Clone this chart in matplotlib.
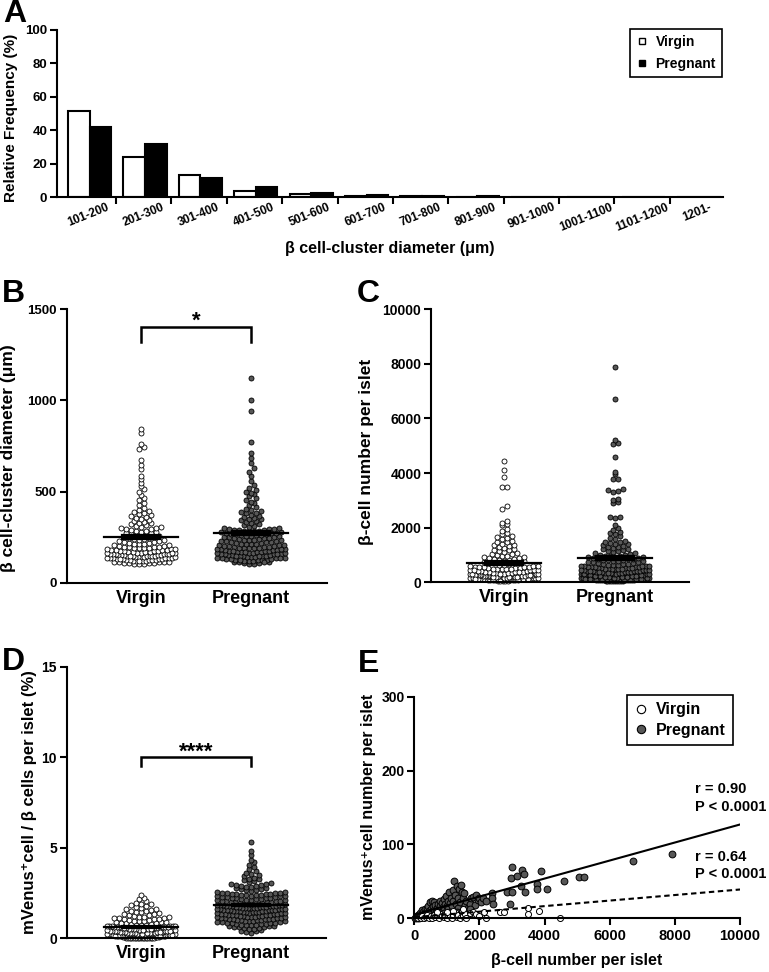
import numpy as np
import matplotlib
matplotlib.use("Agg")
import matplotlib.pyplot as plt
from matplotlib.lines import Line2D

plt.rcParams['font.family'] = ['Liberation Sans', 'DejaVu Sans']
plt.rcParams['font.weight'] = 'bold'
plt.rcParams['axes.linewidth'] = 1.5

W, H = 769, 972
GREY = '#575757'

# ---- panel A: relative frequency of cluster diameters (%) ----
bins = ['101-200', '201-300', '301-400', '401-500', '501-600', '601-700',
        '701-800', '801-900', '901-1000', '1001-1100', '1101-1200', '1201-']
freq_virgin = [51.4, 24.2, 13.1, 3.4, 2.0, 0.5, 0.3, 0.1, 0.0, 0.0, 0.0, 0.0]
freq_pregnant = [41.9, 31.9, 11.5, 6.0, 2.4, 1.2, 0.6, 0.3, 0.1, 0.1, 0.1, 0.0]
groups = ['Virgin', 'Pregnant']

# ---- panel B: beta cell-cluster diameter (um) ----
diam_virgin = [
    101, 103, 104, 106, 107, 109, 110, 111, 113, 114, 115, 116, 118, 119, 120, 121, 122, 124, 125, 126,
    127, 128, 129, 131, 132, 133, 134, 135, 136, 137, 138, 139, 140, 141, 142, 143, 144, 145, 146, 147,
    148, 149, 150, 151, 152, 153, 154, 155, 156, 157, 158, 159, 160, 162, 163, 164, 165, 167, 168, 169,
    170, 172, 173, 175, 176, 177, 179, 180, 182, 183, 185, 186, 188, 189, 191, 192, 194, 195, 197, 198,
    200, 117, 130, 146, 161,
    202, 205, 208, 210, 213, 215, 218, 220, 223, 225, 228, 230, 233, 236, 238, 241, 244, 247, 250, 253,
    256, 259, 262, 265, 268, 271, 274, 277, 280, 283, 286, 289, 292, 295, 298, 300,
    303, 308, 312, 317, 321, 326, 330, 335, 340, 345, 350, 355, 360, 366, 372, 378, 384, 390, 395, 399,
    410, 425, 438, 452, 465, 480, 495,
    512, 530, 548, 570, 585,
    622, 645, 672,
    732, 745, 762,
    820, 842]
diam_pregnant = [
    102, 105, 107, 109, 111, 113, 115, 117, 119, 120, 122, 124, 126, 127, 129, 131, 132, 134, 135, 137,
    138, 140, 141, 143, 144, 146, 147, 149, 150, 152, 153, 155, 156, 158, 159, 161, 162, 164, 165, 167,
    168, 170, 171, 173, 175, 176, 178, 180, 181, 183, 185, 186, 188, 190, 191, 193, 195, 197, 198, 200,
    112, 123, 136, 148, 157, 166, 174, 184, 192, 145,
    201, 203, 205, 207, 209, 211, 213, 215, 217, 219, 221, 223, 225, 227, 229, 231, 233, 235, 237, 239,
    241, 243, 245, 247, 249, 251, 253, 255, 257, 259, 261, 263, 265, 267, 269, 271, 273, 275, 277, 279,
    281, 283, 285, 287, 289, 291, 293, 295, 297, 299, 214, 236, 258, 282,
    302, 307, 312, 317, 322, 327, 332, 337, 342, 347, 352, 357, 362, 368, 374, 380, 385, 390, 395, 399,
    405, 415, 425, 435, 445, 455, 465, 475, 485, 492, 500,
    510, 522, 535, 560, 585,
    608, 628, 655, 682,
    710, 770,
    940, 1000, 1125]

# ---- panel C: beta-cell number per islet ----
cells_virgin = [
    40, 50, 60, 70, 75, 80, 90, 95, 100, 105, 110, 115, 120, 125, 130, 135, 140, 145, 150, 155,
    160, 165, 170, 175, 180, 185, 190, 195, 200, 205, 210, 215, 220, 225, 230, 235, 240, 245, 250, 255,
    260, 265, 270, 275, 280, 285, 290, 295, 300, 65, 85, 112, 128, 142, 158, 172, 188, 202, 218, 232,
    248, 262, 278, 292, 55, 98, 138, 178, 212, 268,
    305, 315, 325, 335, 345, 355, 365, 375, 385, 395, 405, 415, 425, 435, 445, 455, 465, 475, 485, 495,
    505, 515, 525, 535, 545, 555, 565, 575, 585, 595, 320, 380, 440, 500, 560,
    610, 630, 650, 670, 690, 710, 730, 750, 770, 790, 810, 830, 850, 870, 890, 910, 930, 950, 970, 990,
    700, 880,
    1020, 1050, 1080, 1110, 1140, 1170, 1200, 1230, 1260, 1290, 1320, 1350, 1380, 1420, 1460, 1490,
    1530, 1580, 1620, 1660, 1710, 1760, 1820, 1880, 1950,
    2100, 2150, 2190, 2230,
    2700, 2780, 3480, 3500, 3850, 4100, 4450]
cells_pregnant = [
    30, 40, 50, 60, 70, 80, 90, 100, 110, 120, 130, 140, 150, 160, 170, 180, 190, 200, 210, 220,
    230, 240, 250, 260, 270, 280, 290, 300, 35, 45, 55, 65, 75, 85, 95, 105, 115, 125, 135, 145,
    155, 165, 175, 185, 195, 205, 215, 225, 235, 245, 255, 265, 275, 285, 295, 48, 68, 88, 108, 128,
    148, 168, 188, 208, 228, 248, 268, 288, 58, 98, 138, 178, 218, 258, 298, 78, 118, 158, 198, 238,
    305, 312, 320, 328, 336, 344, 352, 360, 368, 376, 384, 392, 400, 408, 416, 424, 432, 440, 448, 456,
    464, 472, 480, 488, 496, 504, 512, 520, 528, 536, 544, 552, 560, 568, 576, 584, 592, 600, 340, 420,
    460, 500, 540, 580, 380,
    610, 623, 636, 649, 662, 675, 688, 701, 714, 727, 740, 753, 766, 779, 792, 805, 818, 831, 844, 857,
    870, 883, 896, 909, 922, 935, 948, 961, 974, 987,
    1010, 1035, 1060, 1085, 1110, 1135, 1160, 1185, 1210, 1235, 1260, 1285, 1310, 1335, 1360, 1385,
    1410, 1435, 1460, 1485,
    1520, 1580, 1640, 1700, 1760, 1800, 1850, 1900, 2000, 2100,
    2350, 2380, 2400, 2900, 2950, 3000, 3050, 3300, 3350, 3380, 3400, 3780, 3800, 3950, 4050, 4600,
    5050, 5100, 5200, 6700, 7900]

# ---- panel D: mVenus+ cells / beta cells per islet (%) ----
ratio_virgin = [
    0, 0, 0, 0, 0, 0, 0, 0, 0, 0, 0, 0, 0, 0, 0, 0, 0, 0,
    0.05, 0.06, 0.08, 0.09, 0.1, 0.11, 0.12, 0.13, 0.14, 0.15, 0.16, 0.17, 0.18, 0.19, 0.2, 0.21,
    0.22, 0.23, 0.24, 0.25, 0.26, 0.27, 0.28, 0.29, 0.3, 0.07, 0.12, 0.16, 0.2, 0.24, 0.28, 0.1,
    0.15, 0.22, 0.27,
    0.31, 0.32, 0.33, 0.34, 0.35, 0.36, 0.37, 0.38, 0.39, 0.4, 0.41, 0.42, 0.43, 0.44, 0.45, 0.46,
    0.47, 0.48, 0.49, 0.5, 0.51, 0.52, 0.53, 0.54, 0.55, 0.56, 0.57, 0.58, 0.59, 0.6, 0.35, 0.42,
    0.48, 0.53, 0.57,
    0.61, 0.62, 0.63, 0.64, 0.65, 0.66, 0.67, 0.68, 0.69, 0.7, 0.72, 0.74, 0.76, 0.78, 0.8, 0.82,
    0.84, 0.86, 0.88, 0.9, 0.65, 0.7,
    0.92, 0.94, 0.96, 0.98, 1.0, 1.02, 1.04, 1.06, 1.08, 1.1, 1.12, 1.14, 1.16, 1.18, 1.2,
    1.23, 1.26, 1.3, 1.33, 1.36, 1.4, 1.43, 1.46, 1.5, 1.53, 1.56, 1.6,
    1.64, 1.68, 1.72, 1.77, 1.82, 1.87, 1.92, 1.97,
    2.05, 2.15, 2.25, 2.38]
ratio_pregnant = [
    0.32, 0.36, 0.4, 0.43, 0.46, 0.49, 0.52, 0.55, 0.58, 0.6, 0.62, 0.64, 0.66, 0.68, 0.7,
    0.72, 0.73, 0.75, 0.76, 0.78, 0.79, 0.81, 0.82, 0.84, 0.85, 0.87, 0.88, 0.9, 0.91, 0.93, 0.94,
    0.96, 0.97, 0.99, 1.0,
    1.01, 1.03, 1.04, 1.05, 1.06, 1.08, 1.09, 1.1, 1.11, 1.13, 1.14, 1.15, 1.16, 1.18, 1.19, 1.2,
    1.21, 1.23, 1.24, 1.25, 1.26, 1.28, 1.29, 1.3, 1.31, 1.33, 1.34, 1.35, 1.36, 1.38, 1.39, 1.4,
    1.41, 1.43, 1.44, 1.45, 1.46, 1.48, 1.49, 1.5,
    1.51, 1.52, 1.53, 1.54, 1.55, 1.56, 1.57, 1.58, 1.59, 1.6, 1.61, 1.62, 1.63, 1.64, 1.65, 1.66,
    1.67, 1.68, 1.69, 1.7, 1.71, 1.72, 1.73, 1.74, 1.75, 1.76, 1.77, 1.78, 1.79, 1.8, 1.81, 1.82,
    1.83, 1.84, 1.85, 1.86, 1.87, 1.88, 1.89, 1.9, 1.92, 1.94, 1.96, 1.98, 2.0,
    2.01, 2.02, 2.04, 2.05, 2.07, 2.08, 2.1, 2.11, 2.13, 2.14, 2.16, 2.17, 2.19, 2.2, 2.22, 2.23,
    2.25, 2.26, 2.28, 2.29, 2.31, 2.32, 2.34, 2.35, 2.37, 2.38, 2.4, 2.41, 2.43, 2.44, 2.46, 2.47,
    2.48, 2.49, 2.5,
    2.52, 2.55, 2.58, 2.61, 2.64, 2.67, 2.7, 2.73, 2.76, 2.79, 2.82, 2.85, 2.88, 2.91, 2.94, 2.96,
    2.98, 3.0,
    3.05, 3.1, 3.15, 3.2, 3.25, 3.3, 3.35, 3.42, 3.48,
    3.55, 3.62, 3.7, 3.8, 3.92,
    4.05, 4.2, 4.3,
    4.6, 4.8, 5.3]

# ---- panel E: mVenus+ cell number vs beta-cell number ----
e_preg_x = [
    60, 100, 150, 180, 220, 250, 280, 300, 320, 350, 380, 400, 420, 450, 480, 500, 520, 550, 580, 600,
    620, 650, 680, 700, 720, 750, 780, 800, 820, 850, 880, 900, 920, 950, 980, 1000, 1020, 1050, 1080, 1100,
    1120, 1150, 1180, 1200, 1230, 1250, 1280, 1300, 1330, 1350, 1380, 1400, 1450, 1500, 1550, 1600, 1650, 1700,
    1750, 1800, 1850, 1900, 1950, 2000, 2050, 2100, 2200, 1440, 1540,
    30, 80, 130, 200, 260, 340, 440, 560, 700, 900, 1100, 1300, 1500, 1700, 1450, 1000,
    2400, 2400, 2420, 2840, 2940, 2960, 3010, 3010, 3145, 3270, 3320, 3370, 3400, 3760, 3780, 3900,
    4070, 4600, 5070, 5200, 6710, 7900]
e_preg_y = [
    2, 4, 3, 7, 5, 11, 8, 6, 12, 9, 14, 5, 17, 10, 22, 13, 8, 23, 16, 11,
    22, 18, 9, 14, 20, 12, 24, 17, 8, 21, 15, 26, 11, 20, 30, 17, 24, 13, 35, 21,
    28, 16, 38, 24, 50, 31, 19, 44, 27, 14, 40, 22, 35, 28, 18, 24, 14, 20,
    27, 29, 18, 31, 25, 28, 22, 27, 24, 45, 34,
    0, 1, 1, 2, 3, 4, 6, 5, 4, 7, 9, 8, 11, 12, 6, 3,
    34, 27, 20, 36, 20, 54, 69, 36, 57, 44, 66, 60, 36, 47, 40, 64,
    40, 51, 56, 56, 77, 87]
e_virg_x = [
    40, 80, 120, 160, 200, 250, 300, 350, 400, 450, 500, 550, 600, 650, 700, 750, 800, 850, 900, 950,
    1000, 1050, 1100, 1150, 1200, 1250, 1300, 1350, 1400, 1450, 1500, 1550, 1600, 1700, 1800, 1850,
    1900, 2000, 2140, 2190, 2630, 2750, 3490, 3490, 3830, 4470, 1200, 1500, 1000, 700]
e_virg_y = [
    0, 1, 0, 2, 1, 3, 0, 2, 4, 1, 3, 0, 5, 2, 4, 1, 6, 3, 2, 5,
    0, 7, 3, 1, 4, 8, 2, 5, 0, 9, 3, 6, 1, 7, 8, 4,
    6, 3, 8, 1, 8, 9, 14, 6, 10, 0, 10, 12, 9, 8]
# regression lines (slope, intercept)
fit_pregnant = (0.0122, 5.0)
fit_virgin = (0.00375, 1.5)
fit_range = [0, 10000]

fig = plt.figure(figsize=(W / 100, H / 100), dpi=100)


def add_ax(x0, y0, x1, y1):
    ax = fig.add_axes([x0 / W, 1 - y1 / H, (x1 - x0) / W, (y1 - y0) / H])
    ax.spines['top'].set_visible(False)
    ax.spines['right'].set_visible(False)
    ax.tick_params(direction='out', length=5, width=1.5, labelsize=10, pad=2)
    return ax


def ftext(x, y, s, **kw):
    fig.text(x / W, 1 - y / H, s, **kw)


def swarm(ax, xc, vals, face, diam=5.0, half=34.0, size=13):
    vals = np.asarray(vals, dtype=float)
    tr = ax.transData
    ypx = tr.transform(np.column_stack([np.zeros(len(vals)), vals]))[:, 1]
    ybase = tr.transform([[0, ax.get_ylim()[0]]])[0, 1]
    ux = tr.transform([[1, 0]])[0, 0] - tr.transform([[0, 0]])[0, 0]
    rows = np.floor((ypx - ybase) / (0.85 * diam)).astype(int)
    xs = np.zeros(len(vals))
    for r in np.unique(rows):
        idx = np.where(rows == r)[0]
        n = len(idx)
        step = diam
        if n > 1 and (n - 1) * step > 2 * half:
            step = 2 * half / (n - 1)
        off = (np.arange(n) - (n - 1) / 2) * step
        off = off[np.argsort(np.abs(off), kind='stable')]
        xs[idx[np.argsort(vals[idx], kind='stable')]] = xc + off / ux
    ax.scatter(xs, vals, s=size, facecolor=face, edgecolor='k', linewidths=0.6,
               zorder=2, clip_on=False)
    m = vals.mean()
    sem = vals.std(ddof=1) / np.sqrt(len(vals))
    ax.plot([xc - 0.335, xc + 0.335], [m, m], color='k', lw=1.6, zorder=3)
    for v in (m - sem, m + sem):
        ax.plot([xc - 0.17, xc + 0.17], [v, v], color='k', lw=1.6, zorder=3)
    ax.plot([xc, xc], [m - sem, m + sem], color='k', lw=1.6, zorder=3)


def group_axes(x0, y0, x1, y1, xc0, xc1, ymax, yticks):
    ax = add_ax(x0, y0, x1, y1)
    u = xc1 - xc0
    ax.set_xlim((x0 - xc0) / u, (x1 - xc0) / u)
    ax.set_ylim(0, ymax)
    ax.set_yticks(yticks)
    ax.set_xticks([0, 1])
    ax.set_xticklabels(groups, fontsize=13)
    ax.tick_params(axis='x', length=0, pad=5)
    return ax


def bracket(ax, lo, hi, stars):
    ax.plot([0, 0, 1, 1], [lo, hi, hi, lo], color='k', lw=1.8, clip_on=False,
            solid_joinstyle='miter')
    ax.text(0.5, hi, stars, ha='center', va='baseline', fontsize=16)


# ---------- A ----------
axA = add_ax(57, 30, 723, 197)
x = np.arange(len(bins))
axA.bar(x - 0.17, freq_virgin, width=0.39, color='white', edgecolor='k', linewidth=1.5, zorder=2)
axA.bar(x + 0.22, freq_pregnant, width=0.39, color='k', edgecolor='k', linewidth=1.5, zorder=2)
axA.set_xlim(-0.565, 11.46)
axA.set_ylim(0, 100)
axA.set_yticks([0, 20, 40, 60, 80, 100])
axA.tick_params(axis='y', labelsize=9.5)
axA.set_xticks(np.arange(0.5, 11.0, 1.0))
axA.set_xticklabels([])
axA.set_xticks(x, minor=True)
axA.set_xticklabels(bins, minor=True, rotation=22, fontsize=8.5)
axA.tick_params(axis='x', which='minor', length=0, pad=3)
ftext(11, 118, 'Relative Frequency (%)', rotation=90, ha='center', va='center', fontsize=11)
ftext(390, 249, 'β cell-cluster diameter (μm)', ha='center', va='center', fontsize=11.5)
legA = fig.legend(
    [Line2D([], [], marker='s', ls='none', mfc='white', mec='k', ms=5, mew=1),
     Line2D([], [], marker='s', ls='none', mfc='k', mec='k', ms=5, mew=1)],
    groups, loc='upper right', bbox_to_anchor=(729 / W, 1 - 22 / H), frameon=True,
    fancybox=False, edgecolor='k', framealpha=1, fontsize=10, borderpad=0.45,
    handlelength=0.8, handletextpad=0.6, labelspacing=0.55)
legA.get_frame().set_linewidth(1.2)

# ---------- B ----------
axB = group_axes(66.7, 309.3, 327, 582.7, 141, 251, 1500, [0, 500, 1000, 1500])
axB.tick_params(axis='y', labelsize=9.5)
swarm(axB, 0, diam_virgin, 'white')
swarm(axB, 1, diam_pregnant, GREY)
bracket(axB, 1322, 1405, '*')
ftext(9, 458, 'β cell-cluster diameter (μm)', rotation=90, ha='center', va='center', fontsize=12.5)

# ---------- C ----------
axC = group_axes(431, 309.3, 689, 582.3, 504, 615, 10000, [0, 2000, 4000, 6000, 8000, 10000])
swarm(axC, 0, cells_virgin, 'white')
swarm(axC, 1, cells_pregnant, GREY)
ftext(366, 452, 'β-cell number per islet', rotation=90, ha='center', va='center', fontsize=12.5)

# ---------- D ----------
axD = group_axes(66.7, 666.7, 326, 938.3, 141, 251, 15, [0, 5, 10, 15])
swarm(axD, 0, ratio_virgin, 'white')
swarm(axD, 1, ratio_pregnant, GREY)
bracket(axD, 9.5, 10.0, '****')
ftext(30, 802, 'mVenus⁺cell / β cells per islet (%)', rotation=90, ha='center', va='center',
      fontsize=12)

# ---------- E ----------
axE = add_ax(414.3, 696.7, 740, 918.3)
axE.set_xlim(0, 10000)
axE.set_ylim(0, 300)
axE.set_xticks([0, 2000, 4000, 6000, 8000, 10000])
axE.set_yticks([0, 100, 200, 300])
axE.tick_params(axis='x', labelsize=10.5, pad=3)
axE.scatter(e_preg_x, e_preg_y, s=24, facecolor=GREY, edgecolor='k', linewidths=0.7,
            zorder=2, clip_on=False)
axE.scatter(e_virg_x, e_virg_y, s=19, facecolor='white', edgecolor='k', linewidths=0.7,
            zorder=2, clip_on=False)
fr = np.array(fit_range, dtype=float)
axE.plot(fr, fit_pregnant[0] * fr + fit_pregnant[1], color='k', lw=1.5, zorder=3)
axE.plot(fr, fit_virgin[0] * fr + fit_virgin[1], color='k', lw=1.5, dashes=(2.6, 1.7), zorder=3)
for yv, s in [(175, 'r = 0.90'), (151, 'P < 0.0001'), (83, 'r = 0.64'), (60, 'P < 0.0001')]:
    axE.text(8620, yv, s, ha='left', va='center', fontsize=10.5, clip_on=False)
legE = axE.legend(
    [Line2D([], [], marker='o', ls='none', mfc='white', mec='k', ms=6, mew=0.8),
     Line2D([], [], marker='o', ls='none', mfc=GREY, mec='k', ms=6, mew=0.8)],
    groups, loc='upper right', bbox_to_anchor=(741 / W, 1 - 687 / H),
    bbox_transform=fig.transFigure, frameon=True, fancybox=False, edgecolor='k',
    framealpha=1, fontsize=11.5, borderpad=0.45, handlelength=0.9, handletextpad=0.5,
    labelspacing=0.35)
legE.get_frame().set_linewidth(1.2)
ftext(368, 807, 'mVenus⁺cell number per islet', rotation=90, ha='center', va='center',
      fontsize=11.5)
ftext(577, 960, 'β-cell number per islet', ha='center', va='center', fontsize=11.5)

# ---------- panel letters ----------
for lx, ly, s in [(3, 22, 'A'), (2, 302, 'B'), (357, 302, 'C'), (2, 670, 'D'), (358, 672, 'E')]:
    ftext(lx, ly, s, ha='left', va='baseline', fontsize=23)

fig.savefig('out.png', dpi=100)
